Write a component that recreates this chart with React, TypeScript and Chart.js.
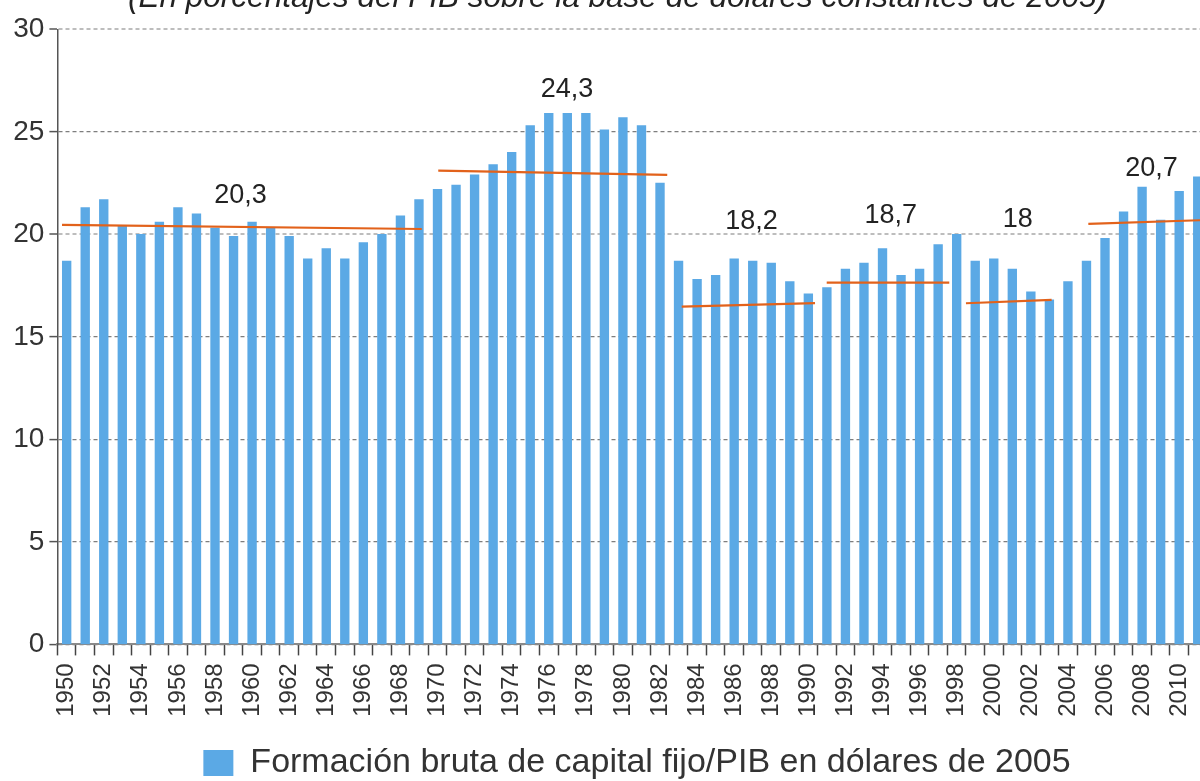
import React, { useEffect, useRef } from 'react';
import { Chart, registerables } from 'chart.js';

Chart.register(...registerables);

const TITLE = '(En porcentajes del PIB sobre la base de dólares constantes de 2005)';
const SERIES_LABEL = 'Formación bruta de capital fijo/PIB en dólares de 2005';

const years = [
  '1950', '1951', '1952', '1953', '1954', '1955', '1956', '1957', '1958', '1959',
  '1960', '1961', '1962', '1963', '1964', '1965', '1966', '1967', '1968', '1969',
  '1970', '1971', '1972', '1973', '1974', '1975', '1976', '1977', '1978', '1979',
  '1980', '1981', '1982', '1983', '1984', '1985', '1986', '1987', '1988', '1989',
  '1990', '1991', '1992', '1993', '1994', '1995', '1996', '1997', '1998', '1999',
  '2000', '2001', '2002', '2003', '2004', '2005', '2006', '2007', '2008', '2009',
  '2010', '2011',
];

const investmentShare = [
  18.7, 21.3, 21.7, 20.4, 20.0, 20.6, 21.3, 21.0, 20.3, 19.9,
  20.6, 20.3, 19.9, 18.8, 19.3, 18.8, 19.6, 20.0, 20.9, 21.7,
  22.2, 22.4, 22.9, 23.4, 24.0, 25.3, 25.9, 25.9, 25.9, 25.1,
  25.7, 25.3, 22.5, 18.7, 17.8, 18.0, 18.8, 18.7, 18.6, 17.7,
  17.1, 17.4, 18.3, 18.6, 19.3, 18.0, 18.3, 19.5, 20.0, 18.7,
  18.8, 18.3, 17.2, 16.8, 17.7, 18.7, 19.8, 21.1, 22.3, 20.7,
  22.1, 22.8,
];

// Hand-drawn period trend segments (year position, level)
const trendStartYear = [1949.75, 1970.04, 1983.17, 1990.99, 1998.5, 2005.1];
const trendEndYear = [1969.15, 1982.39, 1990.36, 1997.6, 2003.12, 2011.5];
const trendStartValue = [20.46, 23.11, 16.47, 17.64, 16.64, 20.51];
const trendEndValue = [20.26, 22.9, 16.64, 17.64, 16.8, 20.7];

// Period average labels
const periodAverageText = ['20,3', '24,3', '18,2', '18,7', '18', '20,7'];
const periodAverageYear = [1959.37, 1976.98, 1986.94, 1994.45, 2001.3, 2008.51];
const periodAverageLevel = [21.87, 27.04, 20.62, 20.92, 20.7, 23.19];

const FONT = "'Liberation Sans', Arial, Helvetica, sans-serif";

const titlePlugin = {
  id: 'clippedTitle',
  afterDraw(chart: any) {
    const ctx = chart.ctx;
    ctx.save();
    ctx.font = `italic 31.5px ${FONT}`;
    ctx.fillStyle = '#222';
    ctx.textAlign = 'center';
    ctx.textBaseline = 'alphabetic';
    ctx.fillText(TITLE, 617.5, 7);
    ctx.restore();
  },
};

const averagesPlugin = {
  id: 'periodAverages',
  afterDatasetsDraw(chart: any) {
    const ctx = chart.ctx;
    const xs = chart.scales.xLine;
    const ys = chart.scales.y;
    ctx.save();
    ctx.font = `27px ${FONT}`;
    ctx.fillStyle = '#222';
    ctx.textAlign = 'center';
    ctx.textBaseline = 'middle';
    periodAverageText.forEach((t, i) => {
      ctx.fillText(t, xs.getPixelForValue(periodAverageYear[i]), ys.getPixelForValue(periodAverageLevel[i]));
    });
    ctx.restore();
  },
};

export default function App() {
  const canvasRef = useRef<HTMLCanvasElement | null>(null);

  useEffect(() => {
    if (!canvasRef.current) return;
    Chart.defaults.font.family = FONT;

    const trendDatasets = trendStartYear.map((sx, i) => ({
      type: 'line' as const,
      label: 'trend' + i,
      xAxisID: 'xLine',
      yAxisID: 'y',
      data: [
        { x: sx, y: trendStartValue[i] },
        { x: trendEndYear[i], y: trendEndValue[i] },
      ],
      borderColor: '#e2621b',
      borderWidth: 2.2,
      pointRadius: 0,
      pointHoverRadius: 0,
      fill: false,
      tension: 0,
      order: 0,
    }));

    const chart = new Chart(canvasRef.current, {
      type: 'bar',
      data: {
        labels: years,
        datasets: [
          {
            type: 'bar' as const,
            label: SERIES_LABEL,
            data: investmentShare,
            xAxisID: 'x',
            yAxisID: 'y',
            backgroundColor: '#5ba9e5',
            borderWidth: 0,
            barThickness: 8.7,
            grouped: false,
            order: 1,
          },
          ...trendDatasets,
        ] as any,
      },
      options: {
        responsive: false,
        animation: false,
        devicePixelRatio: 1,
        layout: { padding: { top: 29.3, left: 0, right: 0, bottom: 0 } },
        plugins: {
          title: { display: false },
          tooltip: { enabled: false },
          legend: {
            display: true,
            position: 'bottom',
            align: 'center',
            labels: {
              boxWidth: 30,
              boxHeight: 26,
              padding: 10,
              color: '#333',
              font: { size: 34, family: FONT },
              filter: (item: any) => item.datasetIndex === 0,
            },
          },
        },
        scales: {
          x: {
            type: 'category',
            position: 'bottom',
            offset: true,
            grid: {
              display: true,
              drawOnChartArea: false,
              drawTicks: true,
              tickLength: 11,
              tickColor: '#444',
              tickWidth: 1.5,
              offset: true,
            },
            border: { display: true, color: '#8a8a8a', width: 2 },
            ticks: {
              autoSkip: false,
              maxRotation: 90,
              minRotation: 90,
              padding: 8,
              color: '#333',
              font: { size: 24, family: FONT },
              callback: (_v: any, index: number) => (index % 2 === 0 ? years[index] : ''),
            },
            afterFit: (s: any) => {
              s.height = 91.6;
            },
          },
          xLine: {
            type: 'linear',
            position: 'bottom',
            display: false,
            offset: false,
            grid: { offset: false },
            min: 1949.5,
            max: 2011.5,
          },
          y: {
            type: 'linear',
            position: 'left',
            min: 0,
            max: 30,
            ticks: {
              stepSize: 5,
              padding: 5,
              color: '#333',
              font: { size: 28, family: FONT },
            },
            grid: {
              display: true,
              drawOnChartArea: true,
              drawTicks: true,
              tickLength: 8,
              tickWidth: 1.5,
              tickColor: '#555',
              tickBorderDash: [],
              color: (c: any) =>
                c.tick && (c.tick.value === 30 || c.tick.value === 20) ? '#bdbdbd' : '#7e7e7e',
              lineWidth: (c: any) =>
                c.tick && (c.tick.value === 30 || c.tick.value === 20) ? 2 : 1.2,
            },
            border: { display: true, color: '#555', width: 1.5, dash: [4, 3] },
            afterFit: (s: any) => {
              s.width = 57.4;
            },
          },
          yPad: {
            type: 'linear',
            position: 'right',
            display: true,
            grid: { display: false, drawTicks: false },
            border: { display: false },
            ticks: { display: false },
            afterFit: (s: any) => {
              s.width = 67;
            },
          },
        },
      } as any,
      plugins: [titlePlugin, averagesPlugin],
    });

    return () => {
      chart.destroy();
    };
  }, []);

  return (
    <div
      style={{
        position: 'fixed',
        left: 0,
        top: 0,
        width: 1200,
        height: 781,
        overflow: 'hidden',
        background: '#fff',
      }}
    >
      <canvas ref={canvasRef} width={1274} height={790} style={{ display: 'block' }} />
    </div>
  );
}
